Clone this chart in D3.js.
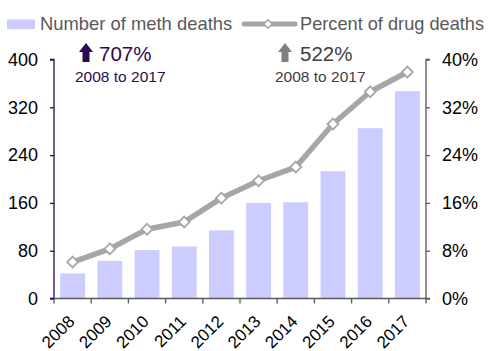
<!DOCTYPE html>
<html>
<head>
<meta charset="utf-8">
<script src="https://cdn.jsdelivr.net/npm/d3@7"></script>
<style>
  body { margin: 0; background: #fff; }
  text { font-family: Arial, "Liberation Sans", sans-serif; }
</style>
</head>
<body>
<div id="chart"></div>
<script>
const years = ["2008", "2009", "2010", "2011", "2012", "2013", "2014", "2015", "2016", "2017"];
const methDeaths = [42, 63, 81, 87, 114, 160, 161, 213, 285, 347];
const pctDrugDeaths = [6.1, 8.3, 11.6, 12.8, 16.8, 19.7, 22.0, 29.2, 34.6, 37.9];
const leftTicks = [0, 80, 160, 240, 320, 400];
const rightTicks = [0, 8, 16, 24, 32, 40];

const width = 490, height = 351;
const m = { left: 54, right: 64, top: 59.5, bottom: 52.5 };
const purple = "#2d0a50", grey = "#a6a6a6", darkGrey = "#595959";

const svg = d3.select("#chart").append("svg")
  .attr("width", width).attr("height", height);

const x = d3.scaleBand().domain(years)
  .range([m.left, width - m.right]).paddingInner(0.33).paddingOuter(0.165);
const xb = d3.scaleBand().domain(years).range([m.left, width - m.right]);
const yL = d3.scaleLinear().domain([0, 400]).range([height - m.bottom, m.top]);
const yR = d3.scaleLinear().domain([0, 40]).range([height - m.bottom, m.top]);

// bars
svg.append("g").selectAll("rect")
  .data(years)
  .join("rect")
  .attr("x", d => x(d))
  .attr("y", (d, i) => yL(methDeaths[i]))
  .attr("width", x.bandwidth())
  .attr("height", (d, i) => yL(0) - yL(methDeaths[i]))
  .attr("fill", "#ccccff");

// line
const line = d3.line()
  .x((d, i) => xb(years[i]) + xb.bandwidth() / 2)
  .y(d => yR(d));
svg.append("path")
  .datum(pctDrugDeaths)
  .attr("d", line)
  .attr("fill", "none")
  .attr("stroke", grey)
  .attr("stroke-width", 5.5)
  .attr("stroke-linejoin", "round");

const diamond = d3.symbol().type(d3.symbolDiamond2).size(75);
svg.append("g").selectAll("path")
  .data(pctDrugDeaths)
  .join("path")
  .attr("d", diamond)
  .attr("transform", (d, i) => `translate(${xb(years[i]) + xb.bandwidth() / 2},${yR(d)})`)
  .attr("fill", "#fff")
  .attr("stroke", grey)
  .attr("stroke-width", 1.8);

// axes
const axL = svg.append("g")
  .attr("transform", `translate(${m.left},0)`)
  .call(d3.axisLeft(yL).tickValues(leftTicks).tickSize(4).tickPadding(12));
axL.selectAll("path, line").attr("stroke", purple).attr("stroke-width", 1.3);
axL.select(".domain").attr("d", `M-4,${yL(400)}H0V${yL(0)}H-4`);
axL.selectAll("text").attr("font-size", 18).attr("fill", "#000");

const axR = svg.append("g")
  .attr("transform", `translate(${width - m.right},0)`)
  .call(d3.axisRight(yR).tickValues(rightTicks).tickSize(4).tickPadding(12)
    .tickFormat(d => d + "%"));
axR.selectAll("path, line").attr("stroke", darkGrey).attr("stroke-width", 1.3);
axR.select(".domain").attr("d", `M4,${yR(40)}H0V${yR(0)}H4`);
axR.selectAll("text").attr("font-size", 18).attr("fill", "#000");

const axX = svg.append("g")
  .attr("transform", `translate(0,${height - m.bottom})`)
  .call(d3.axisBottom(xb).tickSize(0).tickPadding(0));
axX.select(".domain").attr("stroke", darkGrey).attr("stroke-width", 1.5)
  .attr("d", `M${m.left},0H${width - m.right}`);
axX.selectAll("g.tick").append("line")
  .attr("x1", -xb.bandwidth() / 2).attr("x2", -xb.bandwidth() / 2)
  .attr("y1", 0).attr("y2", 5)
  .attr("stroke", darkGrey).attr("stroke-width", 1.3);
axX.append("line")
  .attr("x1", width - m.right).attr("x2", width - m.right)
  .attr("y1", 0).attr("y2", 5)
  .attr("stroke", darkGrey).attr("stroke-width", 1.3);
axX.selectAll("text")
  .attr("font-size", 17).attr("fill", "#000")
  .attr("text-anchor", "end")
  .attr("dy", null)
  .attr("y", 0)
  .attr("transform", "translate(3,24) rotate(-45)");

// legend
const lg = svg.append("g");
lg.append("rect").attr("x", 7).attr("y", 19.5).attr("width", 28).attr("height", 9.5).attr("fill", "#ccccff");
lg.append("text").attr("x", 40).attr("y", 30).attr("font-size", 18.4).attr("fill", darkGrey)
  .text("Number of meth deaths");
lg.append("line").attr("x1", 244).attr("x2", 295).attr("y1", 24).attr("y2", 24)
  .attr("stroke", grey).attr("stroke-width", 5).attr("stroke-linecap", "round");
lg.append("path").attr("d", d3.symbol().type(d3.symbolDiamond2).size(45))
  .attr("transform", "translate(268,24)")
  .attr("fill", "#fff").attr("stroke", grey).attr("stroke-width", 1.5);
lg.append("text").attr("x", 300).attr("y", 30).attr("font-size", 18.2).attr("fill", darkGrey)
  .text("Percent of drug deaths");

// annotations
const arrow = "M0,-10 L7,-19 L14,-10 L10.5,-10 L10.5,0 L3.5,0 L3.5,-10 Z";
svg.append("path").attr("d", arrow).attr("transform", "translate(79,62)").attr("fill", purple);
svg.append("text").attr("x", 99).attr("y", 61).attr("font-size", 20.5).attr("fill", purple).text("707%");
svg.append("text").attr("x", 75).attr("y", 81.5).attr("font-size", 15.5).attr("fill", purple).text("2008 to 2017");

svg.append("path").attr("d", arrow).attr("transform", "translate(278,62)").attr("fill", "#808080");
svg.append("text").attr("x", 300).attr("y", 61).attr("font-size", 20.5).attr("fill", "#404040").text("522%");
svg.append("text").attr("x", 275).attr("y", 81.5).attr("font-size", 15.5).attr("fill", "#404040").text("2008 to 2017");
</script>
</body>
</html>
